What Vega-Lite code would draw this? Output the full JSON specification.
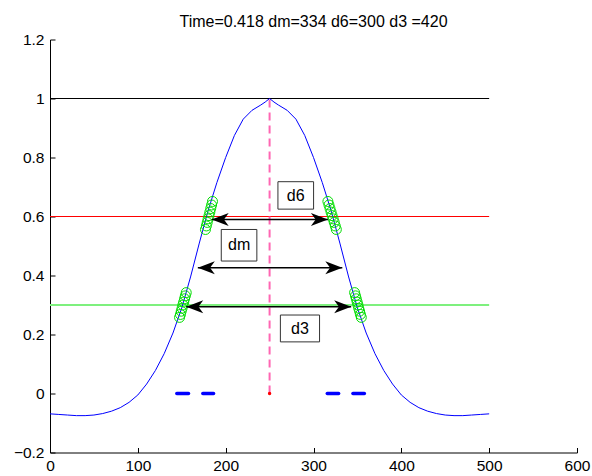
{
  "$schema": "https://vega.github.io/schema/vega-lite/v6.json",
  "width": 527,
  "height": 413,
  "autosize": {"type": "none"},
  "padding": {"left": 50, "top": 39.5, "right": 15, "bottom": 23.5},
  "background": "white",
  "title": {"text": "Time=0.418 dm=334 d6=300 d3 =420", "fontSize": 16, "fontWeight": "normal", "font": "Liberation Sans", "color": "#000000", "anchor": "middle", "baseline": "alphabetic", "offset": -10},
  "config": {
    "view": {"stroke": null},
    "font": "Liberation Sans",
    "axis": {"labelFont": "Liberation Sans", "labelFontSize": 15.5, "labelColor": "#000000", "domainColor": "#000000", "tickColor": "#000000", "grid": false, "tickSize": -5, "labelFlush": false, "labelOverlap": false, "labelBound": false}
  },
  "datasets": {
    "hlines": [
      {"name": "one", "x": 0, "x2": 500, "y": 1},
      {"name": "six", "x": 0, "x2": 500, "y": 0.6},
      {"name": "three", "x": 0, "x2": 500, "y": 0.3}
    ],
    "center": [{"x": 250, "y": 0, "y2": 1}],
    "marks0": [
      {"x": 144.4, "x2": 157.7, "y": 0},
      {"x": 174.0, "x2": 186.2, "y": 0},
      {"x": 315.7, "x2": 328.6, "y": 0},
      {"x": 344.9, "x2": 357.9, "y": 0}
    ],
    "curve": [
      {"x": 0, "y": -0.069}, {"x": 10, "y": -0.071}, {"x": 20, "y": -0.073}, {"x": 30, "y": -0.075},
      {"x": 40, "y": -0.075}, {"x": 50, "y": -0.073}, {"x": 60, "y": -0.068}, {"x": 70, "y": -0.06},
      {"x": 80, "y": -0.048}, {"x": 90, "y": -0.03}, {"x": 100, "y": -0.005}, {"x": 110, "y": 0.032},
      {"x": 120, "y": 0.078}, {"x": 130, "y": 0.135}, {"x": 140, "y": 0.205}, {"x": 150, "y": 0.29},
      {"x": 160, "y": 0.395}, {"x": 170, "y": 0.51}, {"x": 180, "y": 0.62}, {"x": 190, "y": 0.715},
      {"x": 200, "y": 0.8}, {"x": 210, "y": 0.875}, {"x": 220, "y": 0.93}, {"x": 230, "y": 0.96},
      {"x": 240, "y": 0.978}, {"x": 245, "y": 0.988}, {"x": 250, "y": 1.0}, {"x": 255, "y": 0.988},
      {"x": 260, "y": 0.978}, {"x": 270, "y": 0.96}, {"x": 280, "y": 0.93}, {"x": 290, "y": 0.875},
      {"x": 300, "y": 0.8}, {"x": 310, "y": 0.715}, {"x": 320, "y": 0.62}, {"x": 330, "y": 0.51},
      {"x": 340, "y": 0.395}, {"x": 350, "y": 0.29}, {"x": 360, "y": 0.205}, {"x": 370, "y": 0.135},
      {"x": 380, "y": 0.078}, {"x": 390, "y": 0.032}, {"x": 400, "y": -0.005}, {"x": 410, "y": -0.03},
      {"x": 420, "y": -0.048}, {"x": 430, "y": -0.06}, {"x": 440, "y": -0.068}, {"x": 450, "y": -0.073},
      {"x": 460, "y": -0.075}, {"x": 470, "y": -0.075}, {"x": 480, "y": -0.073}, {"x": 490, "y": -0.071},
      {"x": 500, "y": -0.069}
    ],
    "circles": [
      {"x": 185.0, "y": 0.651}, {"x": 184.0, "y": 0.639}, {"x": 183.0, "y": 0.627}, {"x": 182.0, "y": 0.615}, {"x": 181.0, "y": 0.603}, {"x": 180.0, "y": 0.592}, {"x": 179.0, "y": 0.58}, {"x": 178.0, "y": 0.568}, {"x": 177.0, "y": 0.556},
      {"x": 316.4, "y": 0.651}, {"x": 317.6, "y": 0.639}, {"x": 318.8, "y": 0.627}, {"x": 320.0, "y": 0.615}, {"x": 321.2, "y": 0.603}, {"x": 322.4, "y": 0.592}, {"x": 323.6, "y": 0.58}, {"x": 324.8, "y": 0.568}, {"x": 326.0, "y": 0.556},
      {"x": 155.1, "y": 0.342}, {"x": 154.1, "y": 0.331}, {"x": 153.2, "y": 0.321}, {"x": 152.2, "y": 0.31}, {"x": 151.3, "y": 0.3}, {"x": 150.4, "y": 0.289}, {"x": 149.4, "y": 0.279}, {"x": 148.5, "y": 0.268}, {"x": 147.5, "y": 0.258},
      {"x": 346.8, "y": 0.342}, {"x": 347.8, "y": 0.331}, {"x": 348.7, "y": 0.321}, {"x": 349.7, "y": 0.31}, {"x": 350.6, "y": 0.3}, {"x": 351.5, "y": 0.289}, {"x": 352.5, "y": 0.279}, {"x": 353.4, "y": 0.268}, {"x": 354.4, "y": 0.258}
    ],
    "arrows": [
      {"name": "d6", "x1": 184.1, "x2": 316.4, "y": 0.59},
      {"name": "dm", "x1": 168.3, "x2": 332.8, "y": 0.426},
      {"name": "d3", "x1": 155.1, "x2": 342.9, "y": 0.294}
    ],
    "boxes": [
      {"label": "d6", "x1": 259.5, "x2": 300.1, "y1": 0.625, "y2": 0.718, "tx": 279.8, "ty": 0.671},
      {"label": "dm", "x1": 195.0, "x2": 235.5, "y1": 0.449, "y2": 0.556, "tx": 215.3, "ty": 0.502},
      {"label": "d3", "x1": 262.3, "x2": 306.9, "y1": 0.175, "y2": 0.266, "tx": 284.6, "ty": 0.22}
    ]
  },
  "layer": [
    {
      "data": {"name": "hlines"},
      "transform": [{"filter": "datum.name === 'one'"}],
      "mark": {"type": "rule", "color": "#000000", "strokeWidth": 1},
      "encoding": {
        "x": {"field": "x", "type": "quantitative", "title": null, "scale": {"domain": [0, 600], "nice": false, "zero": false}, "axis": {"title": null, "values": [0, 100, 200, 300, 400, 500, 600], "format": "d", "labelPadding": 11}},
        "x2": {"field": "x2"},
        "y": {"field": "y", "type": "quantitative", "title": null, "scale": {"domain": [-0.2, 1.2], "nice": false, "zero": false}, "axis": {"title": null, "values": [-0.2, 0, 0.2, 0.4, 0.6, 0.8, 1, 1.2], "format": ".1~f", "labelPadding": 11}}
      }
    },
    {
      "data": {"name": "hlines"},
      "transform": [{"filter": "datum.name === 'six'"}],
      "mark": {"type": "rule", "color": "#ff0000", "strokeWidth": 1},
      "encoding": {
        "x": {"field": "x", "type": "quantitative", "title": null},
        "x2": {"field": "x2"},
        "y": {"field": "y", "type": "quantitative", "title": null}
      }
    },
    {
      "data": {"name": "hlines"},
      "transform": [{"filter": "datum.name === 'three'"}],
      "mark": {"type": "rule", "color": "#7ef07e", "strokeWidth": 2},
      "encoding": {
        "x": {"field": "x", "type": "quantitative", "title": null},
        "x2": {"field": "x2"},
        "y": {"field": "y", "type": "quantitative", "title": null}
      }
    },
    {
      "data": {"name": "center"},
      "mark": {"type": "rule", "color": "#ff66b3", "strokeWidth": 2, "strokeDash": [8, 5]},
      "encoding": {
        "x": {"field": "x", "type": "quantitative", "title": null},
        "y": {"field": "y", "type": "quantitative", "title": null},
        "y2": {"field": "y2"}
      }
    },
    {
      "data": {"name": "marks0"},
      "mark": {"type": "rule", "color": "#0000ff", "strokeWidth": 3.5, "strokeCap": "round"},
      "encoding": {
        "x": {"field": "x", "type": "quantitative", "title": null},
        "x2": {"field": "x2"},
        "y": {"field": "y", "type": "quantitative", "title": null}
      }
    },
    {
      "data": {"name": "curve"},
      "mark": {"type": "line", "color": "#0000ff", "strokeWidth": 1},
      "encoding": {
        "x": {"field": "x", "type": "quantitative", "title": null},
        "y": {"field": "y", "type": "quantitative", "title": null}
      }
    },
    {
      "data": {"name": "center"},
      "mark": {"type": "point", "filled": true, "color": "#ff0000", "size": 12, "opacity": 1},
      "encoding": {
        "x": {"field": "x", "type": "quantitative", "title": null},
        "y": {"field": "y", "type": "quantitative", "title": null}
      }
    },
    {
      "data": {"name": "circles"},
      "mark": {"type": "point", "shape": "circle", "filled": false, "color": "#00dd00", "size": 100, "strokeWidth": 1, "opacity": 1},
      "encoding": {
        "x": {"field": "x", "type": "quantitative", "title": null},
        "y": {"field": "y", "type": "quantitative", "title": null}
      }
    },
    {
      "data": {"name": "arrows"},
      "mark": {"type": "rule", "color": "#000000", "strokeWidth": 1.5},
      "encoding": {
        "x": {"field": "x1", "type": "quantitative", "title": null},
        "x2": {"field": "x2"},
        "y": {"field": "y", "type": "quantitative", "title": null}
      }
    },
    {
      "data": {"name": "arrows"},
      "mark": {"type": "point", "shape": "M0,0L1,-0.38L0.72,0L1,0.38Z", "filled": true, "color": "#000000", "size": 1156, "opacity": 1, "strokeWidth": 0},
      "encoding": {
        "x": {"field": "x1", "type": "quantitative", "title": null},
        "y": {"field": "y", "type": "quantitative", "title": null}
      }
    },
    {
      "data": {"name": "arrows"},
      "mark": {"type": "point", "shape": "M0,0L-1,-0.38L-0.72,0L-1,0.38Z", "filled": true, "color": "#000000", "size": 1156, "opacity": 1, "strokeWidth": 0},
      "encoding": {
        "x": {"field": "x2", "type": "quantitative", "title": null},
        "y": {"field": "y", "type": "quantitative", "title": null}
      }
    },
    {
      "data": {"name": "boxes"},
      "mark": {"type": "rect", "fill": "#ffffff", "stroke": "#333333", "strokeWidth": 1},
      "encoding": {
        "x": {"field": "x1", "type": "quantitative", "title": null},
        "x2": {"field": "x2"},
        "y": {"field": "y1", "type": "quantitative", "title": null},
        "y2": {"field": "y2"}
      }
    },
    {
      "data": {"name": "boxes"},
      "mark": {"type": "text", "fontSize": 16, "font": "Liberation Sans", "color": "#000000", "align": "center", "baseline": "middle"},
      "encoding": {
        "x": {"field": "tx", "type": "quantitative", "title": null},
        "y": {"field": "ty", "type": "quantitative", "title": null},
        "text": {"field": "label", "type": "nominal"}
      }
    }
  ]
}
